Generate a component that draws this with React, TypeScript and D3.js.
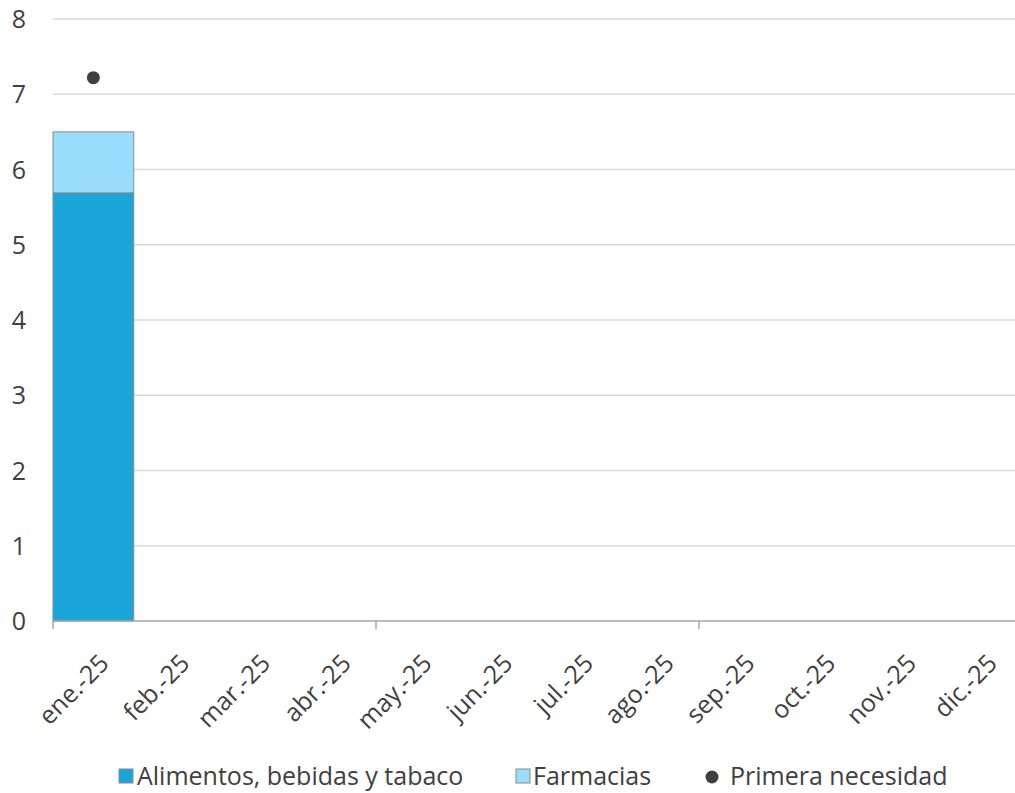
import React from "react";
import * as d3 from "d3";

const categories = ["ene.-25","feb.-25","mar.-25","abr.-25","may.-25","jun.-25","jul.-25","ago.-25","sep.-25","oct.-25","nov.-25","dic.-25"];
const alimentos: (number | null)[] = [5.69, null, null, null, null, null, null, null, null, null, null, null];
const farmacias: (number | null)[] = [0.81, null, null, null, null, null, null, null, null, null, null, null];
const primera: (number | null)[] = [7.22, null, null, null, null, null, null, null, null, null, null, null];
const yTicks = [0, 1, 2, 3, 4, 5, 6, 7, 8];
const legendLabels = ["Alimentos, bebidas y tabaco", "Farmacias", "Primera necesidad"];

const W = 1015, H = 793;
const left = 53, right = 1022, top = 19, bottom = 621;
const FONT = "'Open Sans', sans-serif";
const C1 = "#1AA6D9", C2 = "#99DCFB", DOT = "#404040";

export default function App() {
  const x = d3.scaleBand<string>().domain(categories).range([left, right]).padding(0);
  const y = d3.scaleLinear().domain([0, 8]).range([bottom, top]);
  const bw = x.bandwidth();
  return (
    <svg width={W} height={H} style={{ position: "absolute", left: 0, top: 0, fontFamily: FONT }}>
      <rect width={W} height={H} fill="#fff" />
      {yTicks.map(t => (
        <g key={t}>
          {t > 0 && <line x1={left} x2={right} y1={y(t)} y2={y(t)} stroke="#D9D9D9" strokeWidth={1.5} />}
          <text x={19} y={y(t)} dy="0.36em" textAnchor="middle" fontSize={25} fill="#404040">{t}</text>
        </g>
      ))}
      {categories.map((c, i) => {
        const a = alimentos[i], f = farmacias[i];
        return (
          <g key={c}>
            {a != null && <rect x={x(c)!} y={y(a)} width={bw} height={y(0) - y(a)} fill={C1} stroke="#8A8A8A" strokeWidth={1} />}
            {a != null && f != null && <rect x={x(c)!} y={y(a + f)} width={bw} height={y(a) - y(a + f)} fill={C2} stroke="#8A8A8A" strokeWidth={1} />}
          </g>
        );
      })}
      {categories.map((c, i) => primera[i] != null && (
        <circle key={c} cx={x(c)! + bw / 2} cy={y(primera[i]!)} r={6.5} fill={DOT} />
      ))}
      <line x1={left} x2={right} y1={bottom} y2={bottom} stroke="#A6A6A6" strokeWidth={1.5} />
      {[0, 4, 8].map(i => {
        const px = left + i * bw;
        return <line key={i} x1={px} x2={px} y1={bottom} y2={bottom + 8} stroke="#A6A6A6" strokeWidth={1.5} />;
      })}
      {categories.map(c => {
        const cx = x(c)! + bw / 2 + 17;
        const cy = bottom + 44;
        return (
          <text key={c} x={cx} y={cy} textAnchor="end" fontSize={25} fill="#404040" transform={`rotate(-45 ${cx} ${cy})`}>{c}</text>
        );
      })}
      <g fontSize={25} fill="#404040">
        <rect x={119} y={769} width={14} height={14} fill={C1} stroke="#8A8A8A" strokeWidth={1} />
        <text x={137} y={785}>{legendLabels[0]}</text>
        <rect x={516} y={769} width={14} height={14} fill={C2} stroke="#8A8A8A" strokeWidth={1} />
        <text x={533} y={785}>{legendLabels[1]}</text>
        <circle cx={712} cy={777} r={6.5} fill={DOT} />
        <text x={730} y={785}>{legendLabels[2]}</text>
      </g>
    </svg>
  );
}
